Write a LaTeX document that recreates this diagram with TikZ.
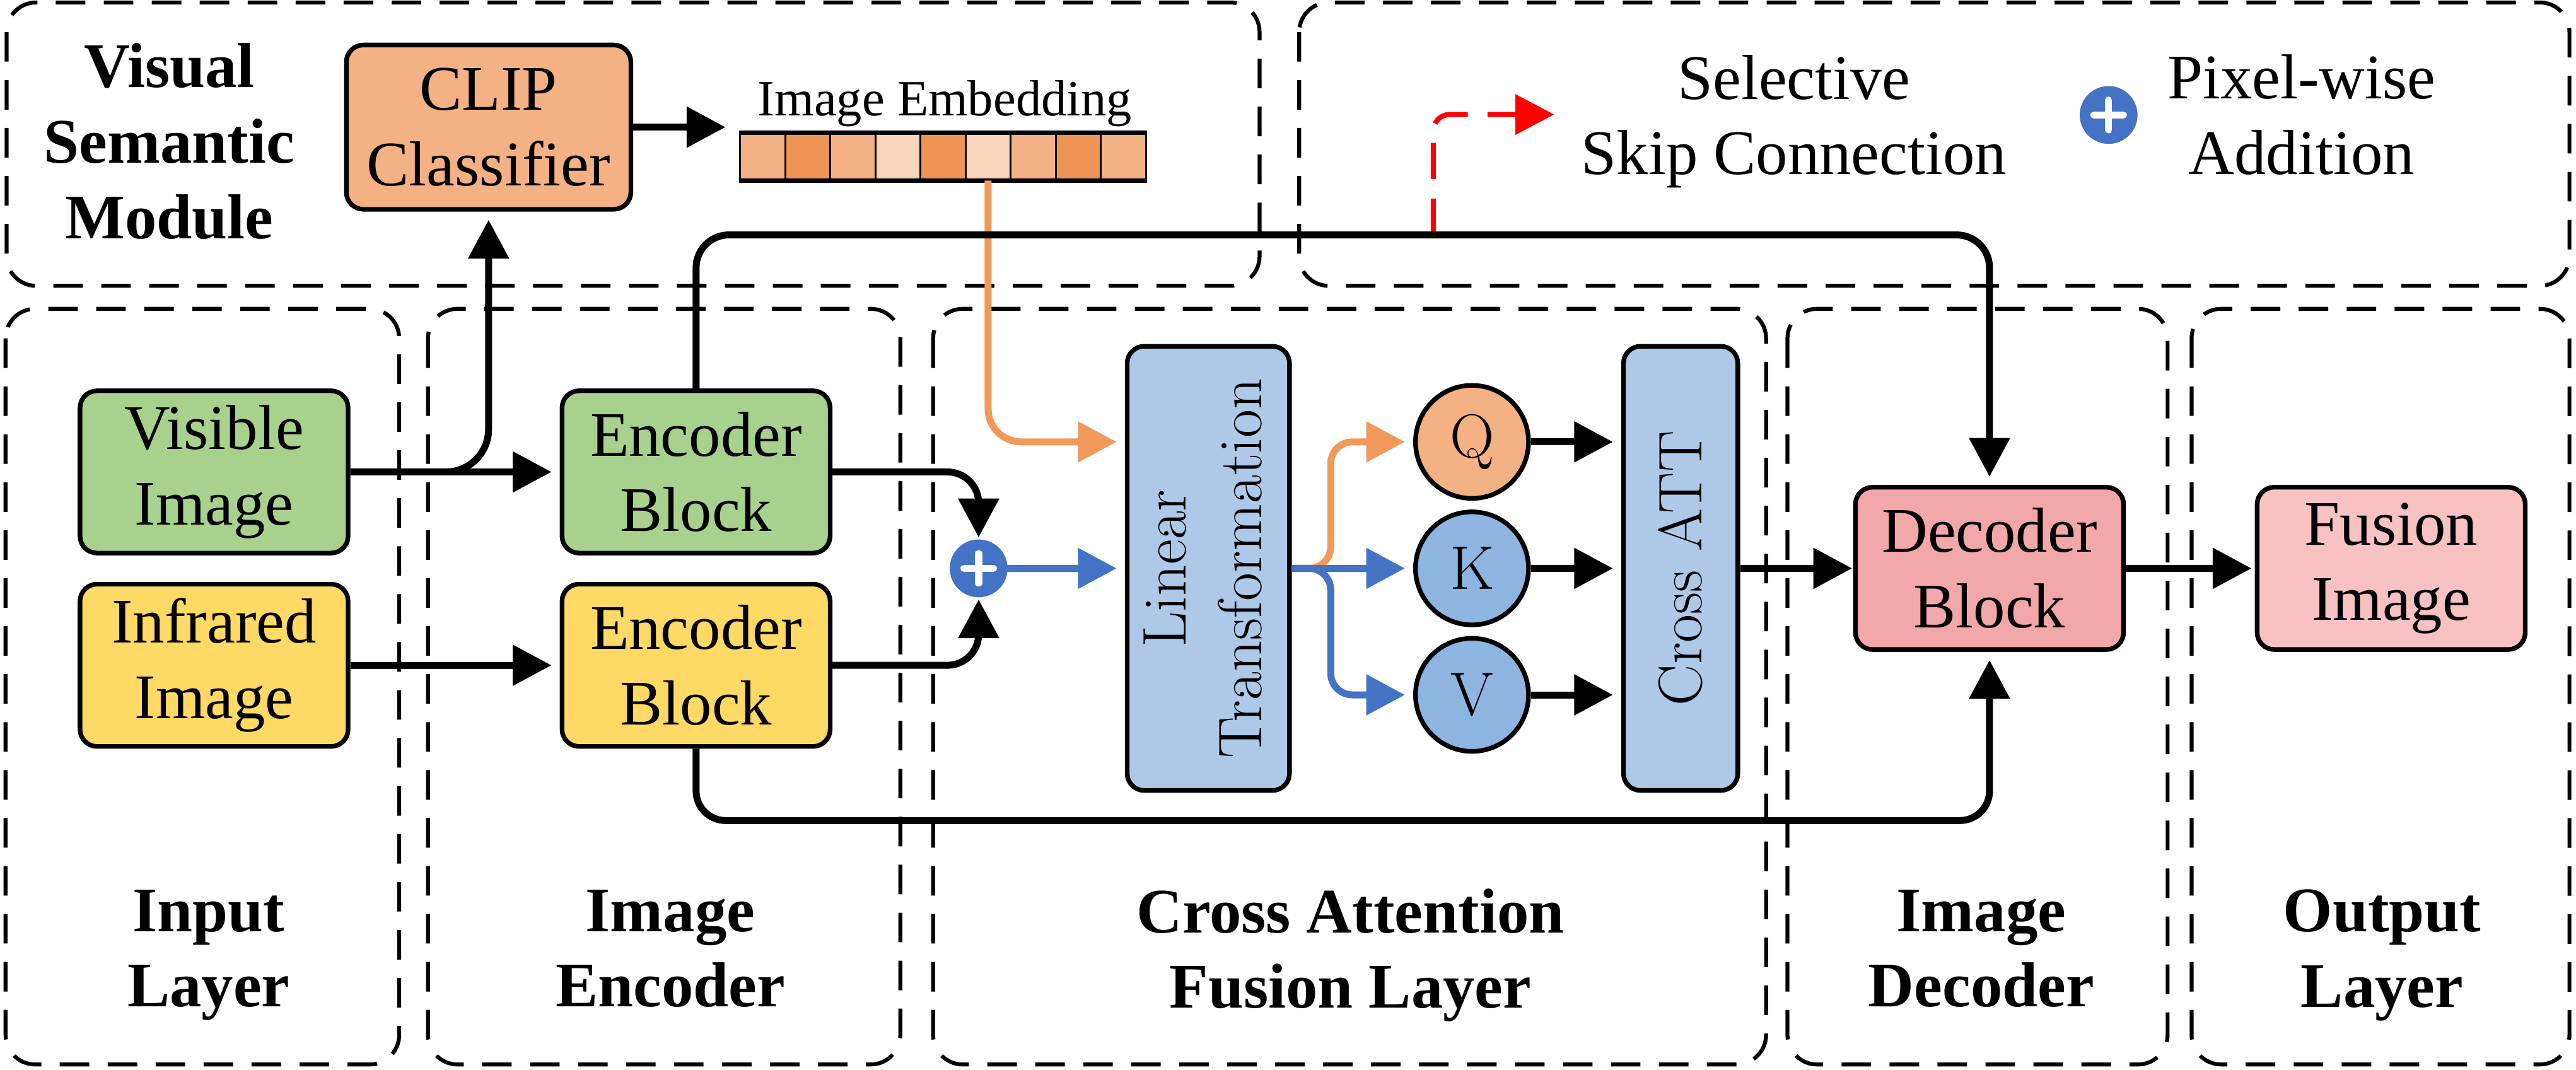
\documentclass[tikz,border=0pt]{standalone}
\usepackage{fontspec}
\newfontfamily\tnr{Liberation Serif}
\usetikzlibrary{arrows.meta}

\definecolor{verde}{HTML}{A9D18E}
\definecolor{amarillo}{HTML}{FFD966}
\definecolor{naranja}{HTML}{F4B183}
\definecolor{naranjaosc}{HTML}{EE9455}
\definecolor{naranjacla}{HTML}{F8D4BA}
\definecolor{lineanar}{HTML}{F0995B}
\definecolor{azulcla}{HTML}{ADC9E7}
\definecolor{azulmed}{HTML}{8DB5E0}
\definecolor{azulosc}{HTML}{4472C4}
\definecolor{rosa}{HTML}{F2A7A8}
\definecolor{rosacla}{HTML}{F8C1C2}

\newcommand{\fuentetnr}{\tnr\fontsize{27.5}{32.7}\selectfont}
\newcommand{\fuentelm}{\fontsize{26.7}{32.7}\selectfont}

\begin{document}
\begin{tikzpicture}[x=0.25mm, y=-0.25mm,
    bloque/.style={draw, line width=2pt, rounded corners=2.6mm, inner sep=0pt,
        minimum width=40.8mm, minimum height=24.7mm, align=center, font=\fuentetnr},
    qkv/.style={circle, draw, line width=2pt, minimum size=17.2mm, inner sep=0pt, font=\fuentelm},
    suma/.style={circle, fill=azulosc, minimum size=8.8mm, inner sep=0pt,
        path picture={\draw[white, line width=1.07mm, line cap=round]
            ([xshift=-2.25mm]path picture bounding box.center) -- ([xshift=2.25mm]path picture bounding box.center)
            ([yshift=-2.25mm]path picture bounding box.center) -- ([yshift=2.25mm]path picture bounding box.center);}},
    capa/.style={line width=1.7pt, dash pattern=on 4.5mm off 2.8mm, rounded corners=4.5mm},
    titulo/.style={align=center, font=\fuentetnr\bfseries},
    flecha/.style={line width=3pt, rounded corners=5mm, shorten >=1.25mm,
        -{Triangle[length=5.9mm, width=6mm]}},
    celda/.style={draw, line width=0.8pt, minimum width=6.86mm, minimum height=7mm, inner sep=0pt}]
    \useasboundingbox (0,0) rectangle (1568,651);

    % Capas (cuadros punteados)
    \draw[capa] (4,1.5) rectangle (766.7,174);
    \draw[capa] (790.8,1.5) rectangle (1564,174);
    \draw[capa] (3.4,188) rectangle (243,648);
    \draw[capa] (260.5,188) rectangle (548,648);
    \draw[capa] (568,188) rectangle (1075,648);
    \draw[capa] (1088,188) rectangle (1319.4,648);
    \draw[capa] (1334,188) rectangle (1564,648);

    % Titulos de las capas
    \node[titulo] (tvsm) at (103,86) {Visual\\Semantic\\Module};
    \node[titulo] (tinput) at (127,581.5) {Input\\Layer};
    \node[titulo] (tenc) at (408,577.5) {Image\\Encoder};
    \node[titulo] (tcross) at (822,581.5) {Cross Attention\\Fusion Layer};
    \node[titulo] (tdec) at (1206,577.5) {Image\\Decoder};
    \node[titulo] (tout) at (1450,581.5) {Output\\Layer};

    % Bloques
    \node[bloque, fill=verde] (visible) at (130.3,287.3) {Visible\\Image};
    \node[bloque, fill=amarillo] (infrared) at (130.3,405) {Infrared\\Image};
    \node[bloque, fill=verde] (enc1) at (423.7,287.3) {Encoder\\Block};
    \node[bloque, fill=amarillo] (enc2) at (423.7,405) {Encoder\\Block};
    \node[bloque, fill=naranja, minimum width=43.3mm, minimum height=25mm] (clip) at (297.4,77.4) {CLIP\\Classifier};
    \node[suma] (suma) at (595.7,346) {};
    \node[bloque, fill=azulcla, minimum width=24.7mm, minimum height=67.6mm, font=\fuentelm] (linear) at (735.5,346)
        {\rotatebox{90}{\begin{tabular}{@{}c@{}}Linear\\Transformation\end{tabular}}};
    \node[qkv, fill=naranja] (q) at (896,269) {Q};
    \node[qkv, fill=azulmed] (k) at (896,346) {K};
    \node[qkv, fill=azulmed] (v) at (896,423) {V};
    \node[bloque, fill=azulcla, minimum width=17.4mm, minimum height=67.6mm, font=\fuentelm] (cross) at (1023,346)
        {\rotatebox{90}{Cross ATT}};
    \node[bloque, fill=rosa] (decoder) at (1211,346) {Decoder\\Block};
    \node[bloque, fill=rosacla] (fusion) at (1455.5,346) {Fusion\\Image};

    % Image Embedding
    \node[font=\tnr\fontsize{22}{26}\selectfont, anchor=base] (tembed) at (575,70.4) {Image Embedding};
    \foreach \c [count=\i] in {naranja, naranjaosc, naranja, naranjacla, naranjaosc, naranjacla, naranja, naranjaosc, naranja}
        \node[celda, fill=\c] (celda\i) at ({450.6+27.43*(\i-0.5)},95.35) {};
    \draw[line width=2pt] (celda1.north west) -- (celda9.north east);
    \draw[line width=2pt] (celda1.south west) -- (celda9.south east);

    % Leyenda
    \coordinate (rojoini) at (872.4,143);
    \coordinate (rojofin) at (946,69.7);
    \draw[flecha, red, line width=2.2pt, rounded corners=2.5mm, shorten >=0pt, dash pattern=on 5.5mm off 3mm] (rojoini) |- (rojofin);
    \node[align=center, font=\fuentetnr] (tskip) at (1092,74) {Selective\\Skip Connection};
    \node[suma] (sumaley) at (1283.5,70) {};
    \node[align=center, font=\fuentetnr] (tsuma) at (1401,69.8) {Pixel-wise\\Addition};

    % Conexiones
    \coordinate (embin) at (446.6,77.4);
    \coordinate (reparto) at (810,346);
    \coordinate (saltoarriba) at (1211,143);
    \coordinate (saltoabajo) at (1211,499.5);
    \draw[flecha] (clip.east) -- (embin);
    \draw[flecha, lineanar] (celda6.south) |- (linear.west |- q);
    \draw[flecha] (visible) -- (enc1);
    \draw[flecha, rounded corners=6.5mm] (visible.east) -| (clip.south);
    \draw[flecha] (infrared) -- (enc2);
    \draw[flecha, rounded corners=4.75mm, shorten >=0.25mm] (enc1.east) -| (suma.north);
    \draw[flecha, rounded corners=4.75mm, shorten >=0.25mm] (enc2.east) -| (suma.south);
    \draw[flecha, azulosc, line cap=round] (suma) -- (linear);
    \draw[flecha, lineanar, rounded corners=3.3mm] (linear.east) -- (reparto) |- (q);
    \draw[flecha, azulosc, rounded corners=3.3mm] (linear.east) -- (reparto) |- (v);
    \draw[flecha, azulosc] (linear.east) -- (k);
    \draw[flecha] (q) -- (cross.west |- q);
    \draw[flecha] (k) -- (cross);
    \draw[flecha] (v) -- (cross.west |- v);
    \draw[flecha, shorten >=0.15mm] (cross) -- (decoder);
    \draw[flecha, shorten >=0.5mm] (decoder) -- (fusion);
    \draw[flecha] (enc1.north) |- (saltoarriba) -- (decoder.north);
    \draw[flecha, rounded corners=4.5mm] (enc2.south) |- (saltoabajo) -- (decoder.south);
\end{tikzpicture}
\end{document}
